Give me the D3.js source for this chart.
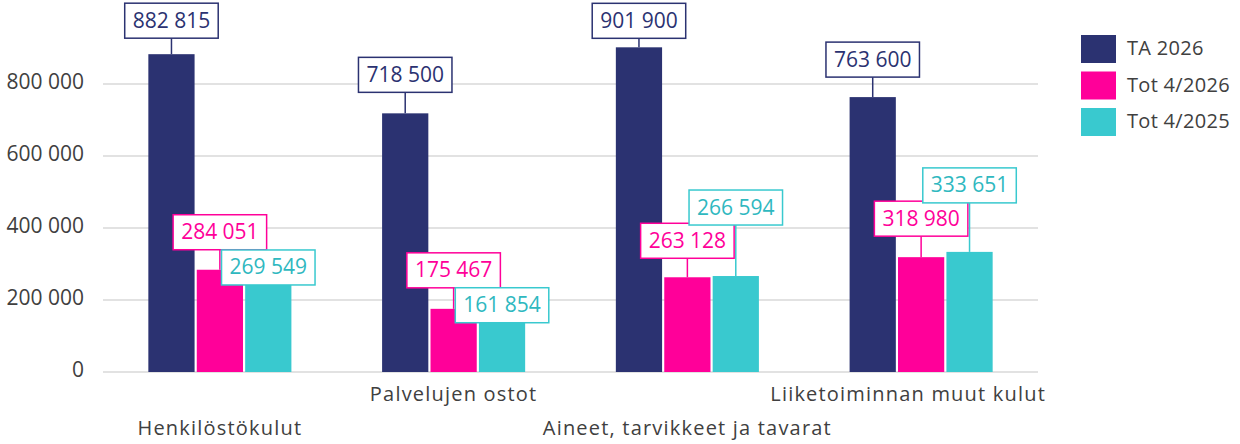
<!DOCTYPE html>
<html>
<head>
<meta charset="utf-8">
<script src="https://cdn.jsdelivr.net/npm/d3@7"></script>
<style>
    body { margin: 0; background: #ffffff; }
    svg text { font-family: "Open Sans", "Liberation Sans", sans-serif; }
</style>
</head>
<body>
<div id="chart"></div>
<script>
// data
var categories = ["Henkilöstökulut", "Palvelujen ostot", "Aineet, tarvikkeet ja tavarat", "Liiketoiminnan muut kulut"];
var seriesNames = ["TA 2026", "Tot 4/2026", "Tot 4/2025"];
var ta2026 = [882815, 718500, 901900, 763600];
var tot2026 = [284051, 175467, 263128, 318980];
var tot2025 = [269549, 161854, 266594, 333651];
var yTicks = [0, 200000, 400000, 600000, 800000];

// layout: how far each value box sits above its bar (px)
var labelLift = [
    [16, 21, 9, 20],
    [20, 21, 19, 21],
    [-10, -9, 51, 49]
];
var colors = ["#2b3271", "#ff0099", "#39c9cf"];
var textColors = ["#2b3271", "#ff0099", "#2fb8bf"];

var W = 1240, H = 444;
var plotLeft = 103, plotRight = 1038, plotTop = 12, plotBottom = 372;

var fi = d3.formatLocale({decimal: ",", thousands: "\u00a0", grouping: [3], currency: ["", " €"]});
var fmt = fi.format(",d");

var svg = d3.select("#chart").append("svg")
    .attr("width", W)
    .attr("height", H);

var x = d3.scaleBand()
    .domain(categories)
    .range([plotLeft, plotRight])
    .paddingInner(0.388)
    .paddingOuter(0.194);
var xs = d3.scaleBand()
    .domain(seriesNames)
    .range([0, x.bandwidth()])
    .paddingInner(0.045);
var y = d3.scaleLinear()
    .domain([0, 1000000])
    .range([plotBottom, plotTop]);

// gridlines
svg.append("g").selectAll("line")
    .data(yTicks)
    .enter().append("line")
    .attr("x1", plotLeft)
    .attr("x2", plotRight)
    .attr("y1", function(d){ return y(d); })
    .attr("y2", function(d){ return y(d); })
    .attr("stroke", "#d9d9d9")
    .attr("stroke-width", 1.5);

// y tick labels
svg.append("g").selectAll("text")
    .data(yTicks)
    .enter().append("text")
    .attr("x", 84)
    .attr("y", function(d){ return y(d) + 5; })
    .attr("text-anchor", "end")
    .attr("font-size", 21)
    .attr("fill", "#404040")
    .text(function(d){ return fmt(d); });

// category labels, staggered; keep the last one inside the chart
svg.append("g").selectAll("text")
    .data(categories)
    .enter().append("text")
    .attr("x", function(d){ return x(d) + x.bandwidth() / 2; })
    .attr("y", function(d, i){ return i % 2 === 0 ? 435 : 401; })
    .attr("text-anchor", "middle")
    .attr("font-size", 20)
    .attr("letter-spacing", 1.2)
    .attr("fill", "#404040")
    .text(function(d){ return d; })
    .each(function(){
        var b = this.getBBox();
        if (b.x + b.width > 1046) {
            d3.select(this).attr("x", +d3.select(this).attr("x") - (b.x + b.width - 1046));
        }
    });

var series = [ta2026, tot2026, tot2025];

// bars
series.forEach(function(vals, s){
    svg.append("g").selectAll("rect")
        .data(vals)
        .enter().append("rect")
        .attr("x", function(d, i){ return x(categories[i]) + xs(seriesNames[s]); })
        .attr("y", function(d){ return y(d); })
        .attr("width", xs.bandwidth())
        .attr("height", function(d){ return y(0) - y(d); })
        .attr("fill", colors[s]);
});

// value labels with leader lines
series.forEach(function(vals, s){
    vals.forEach(function(v, i){
        var cx = x(categories[i]) + xs(seriesNames[s]) + xs.bandwidth() / 2;
        var barTop = y(v);
        var boxH = 35;
        var boxBottom = barTop - labelLift[s][i];
        var g = svg.append("g");
        if (labelLift[s][i] > 0) {
            g.append("line")
                .attr("x1", cx).attr("x2", cx)
                .attr("y1", boxBottom).attr("y2", barTop)
                .attr("stroke", colors[s])
                .attr("stroke-width", 1.5);
        }
        var rect = g.append("rect");
        var t = g.append("text")
            .attr("x", cx)
            .attr("y", boxBottom - boxH / 2 + 7)
            .attr("text-anchor", "middle")
            .attr("font-size", 21)
            .attr("fill", textColors[s])
            .text(fmt(v));
        var tw = t.node().getComputedTextLength();
        var bw = Math.max(93, tw + 16);
        rect.attr("x", cx - bw / 2)
            .attr("y", boxBottom - boxH)
            .attr("width", bw)
            .attr("height", boxH)
            .attr("fill", "#ffffff")
            .attr("stroke", colors[s])
            .attr("stroke-width", 1.5);
    });
});

// legend
var legend = svg.append("g").selectAll("g")
    .data(seriesNames)
    .enter().append("g")
    .attr("transform", function(d, i){ return "translate(1081," + (35 + i * 36.5) + ")"; });
legend.append("rect")
    .attr("width", 35)
    .attr("height", 28)
    .attr("fill", function(d, i){ return colors[i]; });
legend.append("text")
    .attr("x", 46)
    .attr("y", 20)
    .attr("font-size", 20)
    .attr("letter-spacing", 0.3)
    .attr("fill", "#404040")
    .text(function(d){ return d; });
</script>
</body>
</html>
